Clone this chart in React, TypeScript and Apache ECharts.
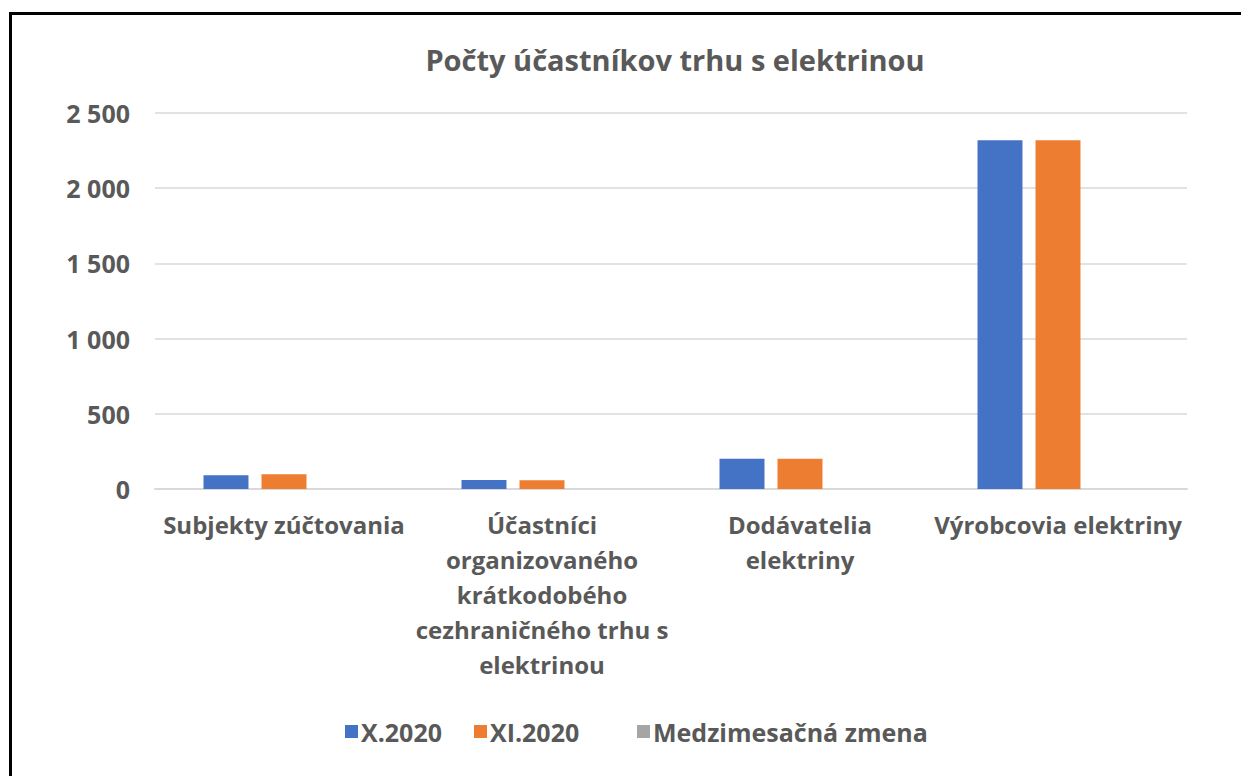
import React, { useEffect, useRef } from "react";
import * as echarts from "echarts";

const categories = [
  "Subjekty zúčtovania",
  "Účastníci\norganizovaného\nkrátkodobého\ncezhraničného trhu s\nelektrinou",
  "Dodávatelia\nelektriny",
  "Výrobcovia elektriny",
];
const seriesNames = ["X.2020", "XI.2020", "Medzimesačná zmena"];
const octValues = [92, 60, 201, 2318];
const novValues = [98, 58, 201, 2319];
const changeValues = [0, 0, 0, 0];
const colors = ["#4472c4", "#ed7d31", "#a5a5a5"];
const titleText = "Počty účastníkov trhu s elektrinou";

const FONT = "'Open Sans', sans-serif";
const TXT = "#595959";
const FS = 24;

export default function App() {
  const ref = useRef<HTMLDivElement>(null);
  useEffect(() => {
    if (!ref.current) return;
    const chart = echarts.init(ref.current, undefined, { renderer: "svg" });
    const data = [octValues, novValues, changeValues];
    const legendLefts = [340, 469, 632];
    chart.setOption({
      animation: false,
      backgroundColor: "#ffffff",
      textStyle: { fontFamily: FONT },
      title: {
        text: titleText,
        left: 670,
        textAlign: "center",
        top: 40,
        textStyle: { fontFamily: FONT, fontSize: 29, fontWeight: "bold", color: TXT },
      },
      legend: seriesNames.map((name, i) => ({
        bottom: 27,
        left: legendLefts[i],
        itemWidth: 13,
        itemHeight: 13,
        icon: "rect",
        textStyle: { fontFamily: FONT, fontSize: 25, fontWeight: "bold", color: TXT, padding: [0, 0, 0, -2] },
        data: [name],
      })),
      grid: { left: 155, right: 54, top: 113, bottom: 287, containLabel: false },
      xAxis: {
        type: "category",
        data: categories,
        axisLine: { lineStyle: { color: "#d9d9d9", width: 2 } },
        axisTick: { show: false },
        axisLabel: {
          interval: 0,
          margin: 18,
          fontFamily: FONT,
          fontSize: FS,
          fontWeight: "bold",
          color: TXT,
          lineHeight: 35,
        },
      },
      yAxis: {
        type: "value",
        min: 0,
        max: 2500,
        interval: 500,
        axisLine: { show: false },
        axisTick: { show: false },
        splitLine: { lineStyle: { color: "#d9d9d9", width: 1.5 } },
        axisLabel: {
          margin: 25,
          fontFamily: FONT,
          fontSize: 25,
          fontWeight: "bold",
          color: TXT,
          formatter: (v: number) => String(v).replace(/\B(?=(\d{3})+(?!\d))/g, " "),
        },
      },
      series: seriesNames.map((name, i) => ({
        name,
        type: "bar",
        data: data[i],
        barGap: "29%",
        barCategoryGap: "37.6%",
        itemStyle: { color: colors[i] },
      })),
    });
    return () => chart.dispose();
  }, []);
  return (
    <div style={{ position: "fixed", left: 0, top: 0, width: 1241, height: 776, background: "#fff" }}>
      <div ref={ref} style={{ position: "absolute", left: 0, top: 0, width: 1241, height: 776 }} />
      <div
        style={{
          position: "absolute",
          left: 9,
          top: 12,
          width: 1241,
          height: 776,
          borderLeft: "3px solid #000",
          borderTop: "3px solid #000",
          pointerEvents: "none",
        }}
      />
    </div>
  );
}
